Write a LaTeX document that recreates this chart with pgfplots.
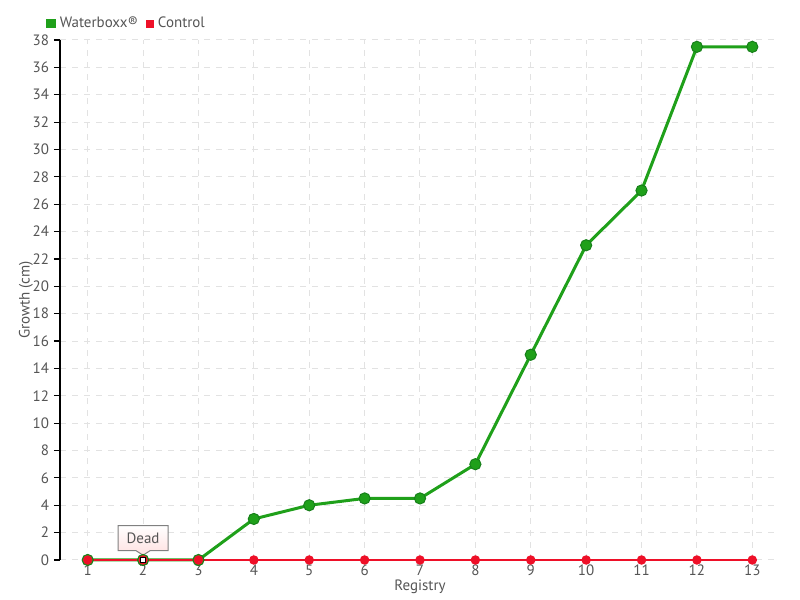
\documentclass[border=0pt]{standalone}
\usepackage{fontspec}
\setmainfont{PT Sans}
\usepackage{pgfplots}
\pgfplotsset{compat=1.18}
\usetikzlibrary{shapes.callouts}
\definecolor{wbgreen}{HTML}{1FA01A}
\definecolor{wbdark}{HTML}{17801A}
\definecolor{ctred}{HTML}{EE1028}
\definecolor{txtgrey}{HTML}{555555}
\definecolor{gridgrey}{HTML}{E2E2E2}
\begin{document}
\begin{tikzpicture}
\path[use as bounding box] (0,0) rectangle (400pt,300pt);
\begin{axis}[
  at={(30pt,20pt)}, anchor=south west,
  scale only axis, width=360pt, height=260pt,
  xmin=0.5, xmax=13.5, ymin=0, ymax=38,
  xtick={1,...,13}, ytick={0,2,...,38},
  axis x line*=bottom, axis y line*=left,
  x axis line style={draw=none},
  y axis line style={-, black, line width=0.6pt},
  xtick style={draw=none},
  ytick style={black, line width=0.6pt},
  tick align=outside, major tick length=3pt,
  grid=major, grid style={gridgrey, dashed, line width=0.5pt},
  font=\fontsize{7.5}{9}\selectfont,
  tick label style={txtgrey, font=\fontsize{7.5}{9}\selectfont},
  xticklabel style={yshift=4pt},
  yticklabel style={xshift=1pt},
  /pgf/number format/assume math mode=true,
  xlabel={Registry}, xlabel style={txtgrey, yshift=5pt},
  ylabel={Growth (cm)}, ylabel style={txtgrey, yshift=-7pt},
  clip=false,
  legend style={at={(0,1)}, anchor=south west, xshift=-10pt, yshift=0.5pt,
    draw=none, fill=none, legend columns=-1, font=\fontsize{7.5}{9}\selectfont,
    text=txtgrey, /tikz/every even column/.append style={column sep=2pt}},
  legend image code/.code={\fill[#1] (0pt,-1.6pt) rectangle (3.2pt,1.6pt);},
]
\addplot[wbgreen, line width=1.5pt, mark=*, mark size=2.8pt,
  mark options={fill=wbgreen, draw=wbdark, line width=0.5pt}]
  coordinates {(1,0) (2,0) (3,0) (4,3) (5,4) (6,4.5) (7,4.5) (8,7)
    (9,15) (10,23) (11,27) (12,37.5) (13,37.5)};
\addlegendentry{Waterboxx®}
\addplot[ctred, line width=0.7pt, mark=*, mark size=2pt,
  mark options={fill=ctred, draw=ctred}]
  coordinates {(1,0) (2,0) (3,0) (4,0) (5,0) (6,0) (7,0) (8,0)
    (9,0) (10,0) (11,0) (12,0) (13,0)};
\addlegendentry{Control}
\addplot[forget plot, only marks, mark=square*, mark size=1.3pt,
  mark options={fill=white, draw=black, line width=0.6pt}]
  coordinates {(2,0)};
\node[rectangle callout, draw=gray, line width=0.5pt,
  top color=white, bottom color=red!12, text=txtgrey,
  minimum width=25pt, minimum height=12.5pt, inner sep=1pt,
  callout absolute pointer={(axis cs:2,0.35)}]
  at (axis cs:2,1.6) {Dead};
\end{axis}
\end{tikzpicture}
\end{document}
